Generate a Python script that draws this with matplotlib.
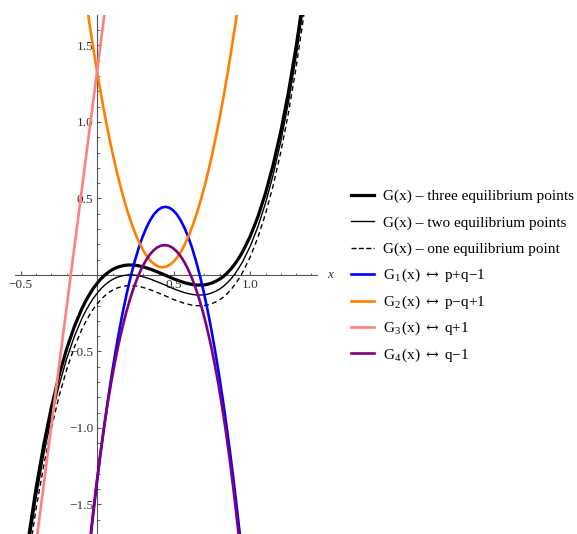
import numpy as np
import matplotlib
matplotlib.use("Agg")
import matplotlib.pyplot as plt
from matplotlib.lines import Line2D
from matplotlib.ticker import FixedLocator

plt.rcParams['font.family'] = ['Liberation Serif', 'DejaVu Serif']
plt.rcParams['mathtext.fontset'] = 'custom'
plt.rcParams['mathtext.rm'] = 'Liberation Serif'
plt.rcParams['mathtext.it'] = 'Liberation Serif:italic'
plt.rcParams['mathtext.sf'] = 'DejaVu Serif'

# G(x) curves (same x grid for the three variants)
g_x = [-0.46, -0.40, -0.35, -0.30, -0.25, -0.20, -0.15,
       -0.10, -0.075, -0.05, -0.025, 0.0, 0.025, 0.05, 0.075, 0.10, 0.125, 0.15, 0.175,
       0.20, 0.225, 0.25, 0.275, 0.30, 0.325, 0.35, 0.375, 0.40, 0.425, 0.45, 0.475,
       0.50, 0.525, 0.55, 0.575, 0.60, 0.625, 0.65, 0.675, 0.70, 0.725, 0.75, 0.775,
       0.80, 0.825, 0.85, 0.875, 0.90, 0.925, 0.95,
       1.00, 1.05, 1.10, 1.15, 1.20, 1.25, 1.30, 1.35, 1.40]
g_three = [-1.787, -1.392, -1.109, -0.865, -0.657, -0.482, -0.337,
           -0.218, -0.169, -0.125, -0.086, -0.053, -0.024, 0.000, 0.020, 0.036, 0.048, 0.056, 0.062,
           0.065, 0.065, 0.063, 0.059, 0.053, 0.045, 0.037, 0.027, 0.017, 0.007, -0.004, -0.015,
           -0.026, -0.035, -0.044, -0.052, -0.058, -0.063, -0.066, -0.066, -0.065, -0.060, -0.052, -0.041,
           -0.027, -0.009, 0.014, 0.041, 0.073, 0.110, 0.152,
           0.254, 0.381, 0.536, 0.722, 0.941, 1.198, 1.495, 1.834, 2.221]
g_two = [-1.852, -1.457, -1.174, -0.930, -0.722, -0.547, -0.402,
         -0.283, -0.234, -0.190, -0.151, -0.118, -0.089, -0.065, -0.045, -0.029, -0.017, -0.009, -0.003,
         0.000, 0.000, -0.002, -0.006, -0.012, -0.020, -0.028, -0.038, -0.048, -0.058, -0.069, -0.080,
         -0.091, -0.100, -0.109, -0.117, -0.123, -0.128, -0.131, -0.131, -0.130, -0.125, -0.117, -0.106,
         -0.092, -0.074, -0.051, -0.024, 0.008, 0.045, 0.087,
         0.189, 0.316, 0.471, 0.657, 0.876, 1.133, 1.430, 1.769, 2.156]
g_one = [-1.922, -1.527, -1.244, -1.000, -0.792, -0.617, -0.472,
         -0.353, -0.304, -0.260, -0.221, -0.188, -0.159, -0.135, -0.115, -0.099, -0.087, -0.079, -0.073,
         -0.070, -0.070, -0.072, -0.076, -0.082, -0.090, -0.098, -0.108, -0.118, -0.128, -0.139, -0.150,
         -0.161, -0.170, -0.179, -0.187, -0.193, -0.198, -0.201, -0.201, -0.200, -0.195, -0.187, -0.176,
         -0.162, -0.144, -0.121, -0.094, -0.062, -0.025, 0.017,
         0.119, 0.246, 0.401, 0.587, 0.806, 1.063, 1.360, 1.699, 2.086]

# G1 (blue)
g1_x = [-0.055, -0.03, -0.005, 0.02, 0.045, 0.07, 0.095, 0.12, 0.145, 0.17, 0.195,
        0.22, 0.245, 0.27, 0.295, 0.32, 0.345, 0.37, 0.395, 0.42, 0.445,
        0.47, 0.495, 0.52, 0.545, 0.57, 0.595, 0.62, 0.645, 0.67, 0.695,
        0.72, 0.745, 0.77, 0.795, 0.82, 0.845, 0.87, 0.895, 0.92, 0.945]
g1_y = [-1.818, -1.591, -1.378, -1.177, -0.989, -0.812, -0.648, -0.496, -0.355, -0.226, -0.109,
        -0.003, 0.091, 0.175, 0.247, 0.307, 0.357, 0.396, 0.423, 0.440, 0.445,
        0.440, 0.423, 0.396, 0.357, 0.307, 0.247, 0.175, 0.091, -0.003, -0.109,
        -0.226, -0.355, -0.496, -0.648, -0.812, -0.989, -1.177, -1.378, -1.591, -1.818]
# G2 (orange)
g2_x = [-0.074, -0.049, -0.024, 0.001, 0.026, 0.051, 0.076, 0.101, 0.126, 0.151, 0.176,
        0.201, 0.226, 0.251, 0.276, 0.301, 0.326, 0.351, 0.376, 0.401, 0.426,
        0.451, 0.476, 0.501, 0.526, 0.551, 0.576, 0.601, 0.626, 0.651, 0.676,
        0.701, 0.726, 0.751, 0.776, 0.801, 0.826, 0.851, 0.876, 0.901, 0.926]
g2_y = [1.800, 1.629, 1.468, 1.314, 1.170, 1.034, 0.908, 0.789, 0.680, 0.579, 0.488,
        0.404, 0.330, 0.264, 0.208, 0.159, 0.120, 0.089, 0.068, 0.054, 0.050,
        0.054, 0.068, 0.089, 0.120, 0.159, 0.208, 0.264, 0.330, 0.404, 0.488,
        0.579, 0.680, 0.789, 0.908, 1.034, 1.170, 1.314, 1.468, 1.629, 1.800]
# G3 (pink)
g3_x = [-0.42, -0.30, -0.20, -0.10, 0.00, 0.06]
g3_y = [-1.912, -0.982, -0.207, 0.568, 1.343, 1.808]
# G4 (purple)
g4_x = [-0.06, -0.035, -0.01, 0.015, 0.04, 0.065, 0.09, 0.115, 0.14, 0.165, 0.19,
        0.215, 0.24, 0.265, 0.29, 0.315, 0.34, 0.365, 0.39, 0.415, 0.44,
        0.465, 0.49, 0.515, 0.54, 0.565, 0.59, 0.615, 0.64, 0.665, 0.69,
        0.715, 0.74, 0.765, 0.79, 0.815, 0.84, 0.865, 0.89, 0.915, 0.94]
g4_y = [-1.854, -1.618, -1.402, -1.203, -1.022, -0.857, -0.707, -0.571, -0.448, -0.339, -0.241,
        -0.154, -0.078, -0.012, 0.044, 0.091, 0.129, 0.158, 0.179, 0.191, 0.195,
        0.191, 0.179, 0.158, 0.129, 0.091, 0.044, -0.012, -0.078, -0.154, -0.241,
        -0.339, -0.448, -0.571, -0.707, -0.857, -1.022, -1.203, -1.402, -1.618, -1.854]

labels = ["G(x) \u2013 three equilibrium points",
          "G(x) \u2013 two equilibrium points",
          "G(x) \u2013 one equilibrium point",
          "$\\mathrm{G}_1\\,$(x) $\\mathsf{\\leftrightarrow}$ p+q\u22121",
          "$\\mathrm{G}_2\\,$(x) $\\mathsf{\\leftrightarrow}$ p\u2212q+1",
          "$\\mathrm{G}_3\\,$(x) $\\mathsf{\\leftrightarrow}$ q+1",
          "$\\mathrm{G}_4\\,$(x) $\\mathsf{\\leftrightarrow}$ q\u22121"]

x_major = [-0.5, 0.5, 1.0]
x_major_labels = ["\u22120.5", "0.5", "1.0"]
y_major = [-1.5, -1.0, -0.5, 0.5, 1.0, 1.5]
y_major_labels = ["\u22121.5", "\u22121.0", "\u22120.5", "0.5", "1.0", "1.5"]

fig = plt.figure(figsize=(5.77, 5.34), dpi=100)
ax = fig.add_axes([15/577, 0, 302/577, 519/534])

l1, = ax.plot(g_x, g_three, color='black', lw=2.3, solid_joinstyle='round')
l2, = ax.plot(g_x, g_two, color='black', lw=1.0)
l3, = ax.plot(g_x, g_one, color='black', lw=1.0, ls=(0, (3.5, 2.5)))
l4, = ax.plot(g1_x, g1_y, color='#0000ff', lw=1.9)
l5, = ax.plot(g2_x, g2_y, color='#ff8000', lw=1.9)
l6, = ax.plot(g3_x, g3_y, color='#ff8080', lw=1.9)
l7, = ax.plot(g4_x, g4_y, color='#800080', lw=1.9)

ax.set_xlim(-0.538, 1.436)
ax.set_ylim(-1.693, 1.699)

for side in ['top', 'right']:
    ax.spines[side].set_visible(False)
for side in ['left', 'bottom']:
    ax.spines[side].set_position(('data', 0))
    ax.spines[side].set_color('#555555')
    ax.spines[side].set_linewidth(0.8)
    ax.spines[side].set_zorder(1)
ax.set_axisbelow(True)

ax.xaxis.set_major_locator(FixedLocator(x_major))
ax.set_xticklabels(x_major_labels)
ax.xaxis.set_minor_locator(FixedLocator(np.round(np.arange(-0.5, 1.45, 0.1), 2)))
ax.yaxis.set_major_locator(FixedLocator(y_major))
ax.set_yticklabels(y_major_labels)
ax.yaxis.set_minor_locator(FixedLocator(np.round(np.arange(-1.6, 1.65, 0.1), 2)))
ax.tick_params(which='both', direction='in', color='#555555', labelcolor='#333333', labelsize=9.5)
ax.tick_params(which='major', length=3.2, width=0.8, pad=3)
ax.tick_params(which='minor', length=1.8, width=0.6)
ax.patch.set_visible(False)

ax.annotate('x', xy=(1, 0), xycoords=ax.get_yaxis_transform(), xytext=(13, 0),
            textcoords='offset pixels', ha='center', va='center', style='italic',
            fontsize=9.5, color='#333333')

# legend, laid out by hand so every row has the same height
W, H = 577, 534
for i, (line, lab) in enumerate(zip([l1, l2, l3, l4, l5, l6, l7], labels)):
    yc = 195 + 26.4 * i
    fig.add_artist(Line2D([351 / W, 374 / W], [1 - yc / H, 1 - yc / H],
                          color=line.get_color(), lw=line.get_linewidth(),
                          ls=line.get_linestyle(), transform=fig.transFigure))
    fig.text(383 / W, 1 - (yc + 5) / H, lab, fontsize=11, va='baseline', ha='left')

fig.savefig('out.png', dpi=100)
